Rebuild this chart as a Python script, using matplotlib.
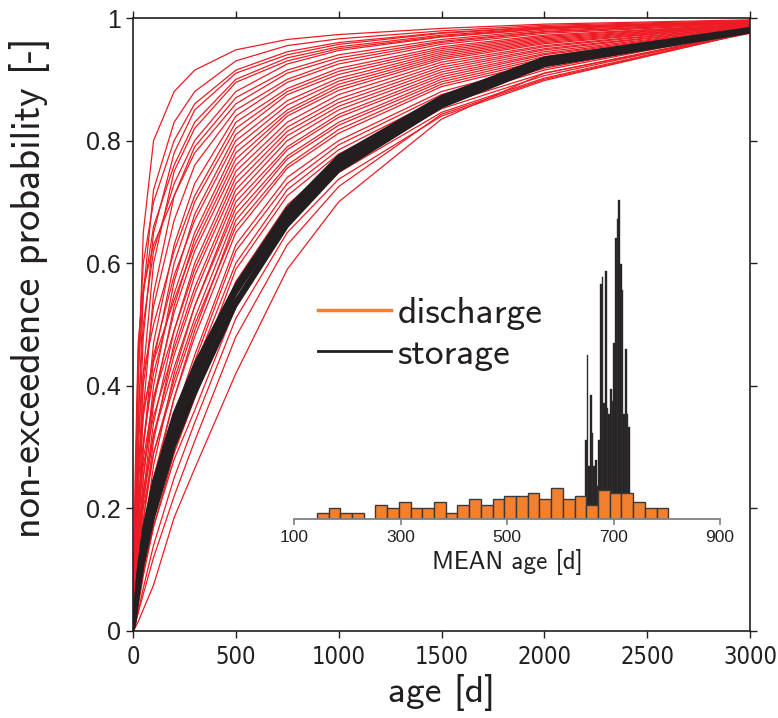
import numpy as np
import matplotlib.pyplot as plt
from matplotlib.lines import Line2D
from matplotlib.ticker import FormatStrFormatter
from matplotlib import font_manager

ages = [0, 10, 25, 50, 100, 200, 300, 500, 750, 1000, 1500, 2000, 3000]

# discharge age CDFs (one row per realisation)
discharge_cdfs = [
    [0, .15, .40, .65, .80, .88, .915, .948, .965, .973, .983, .990, .997],
    [0, .12, .33, .55, .72, .83, .88, .93, .955, .966, .979, .988, .996],
    [0, .18, .45, .60, .70, .80, .86, .915, .945, .960, .976, .986, .995],
    [0, .10, .28, .48, .65, .78, .85, .91, .94, .957, .975, .985, .995],
    [0, .20, .42, .55, .66, .76, .83, .90, .935, .953, .972, .984, .994],
    [0, .08, .22, .42, .60, .75, .82, .895, .93, .950, .970, .983, .994],
    [0, .14, .35, .50, .62, .73, .80, .88, .925, .947, .969, .982, .993],
    [0, .06, .18, .36, .55, .71, .79, .87, .915, .940, .965, .980, .993],
    [0, .25, .47, .56, .63, .71, .78, .86, .91, .935, .962, .978, .992],
    [0, .10, .25, .40, .53, .67, .76, .85, .90, .930, .960, .977, .992],
    [0, .05, .15, .30, .47, .63, .73, .84, .895, .925, .957, .975, .991],
    [0, .16, .32, .42, .50, .62, .71, .83, .885, .918, .953, .972, .990],
    [0, .07, .17, .30, .44, .60, .70, .82, .88, .913, .950, .970, .990],
    [0, .04, .12, .25, .40, .57, .68, .81, .875, .908, .947, .968, .989],
    [0, .11, .24, .35, .45, .58, .67, .80, .865, .902, .944, .966, .989],
    [0, .09, .20, .31, .42, .55, .65, .79, .858, .897, .941, .964, .988],
    [0, .03, .10, .22, .37, .53, .64, .78, .85, .892, .938, .962, .988],
    [0, .13, .27, .36, .44, .54, .63, .77, .845, .887, .935, .960, .987],
    [0, .06, .14, .25, .38, .52, .62, .76, .84, .882, .932, .958, .987],
    [0, .04, .11, .21, .34, .49, .60, .75, .83, .875, .928, .955, .986],
    [0, .08, .18, .28, .38, .49, .59, .74, .822, .868, .924, .953, .986],
    [0, .03, .09, .18, .31, .47, .58, .73, .815, .862, .920, .950, .985],
    [0, .10, .20, .27, .35, .46, .56, .72, .808, .856, .916, .948, .985],
    [0, .05, .12, .21, .32, .45, .55, .71, .80, .850, .912, .945, .984],
    [0, .02, .07, .15, .27, .42, .53, .70, .79, .843, .908, .942, .984],
    [0, .07, .15, .23, .32, .43, .53, .69, .785, .838, .904, .940, .983],
    [0, .04, .10, .18, .29, .41, .51, .68, .775, .830, .900, .937, .983],
    [0, .02, .06, .13, .24, .38, .49, .67, .77, .825, .896, .934, .982],
    [0, .06, .13, .20, .29, .40, .50, .66, .76, .818, .892, .931, .982],
    [0, .03, .08, .15, .25, .38, .48, .65, .755, .812, .888, .928, .981],
    [0, .03, .08, .14, .23, .35, .45, .63, .74, .80, .880, .925, .980],
    [0, .02, .06, .12, .21, .34, .44, .62, .73, .793, .875, .922, .980],
    [0, .04, .09, .15, .23, .34, .43, .60, .72, .785, .870, .918, .979],
    [0, .02, .05, .10, .19, .31, .41, .59, .71, .778, .865, .915, .979],
    [0, .03, .07, .12, .20, .31, .40, .57, .695, .768, .858, .910, .978],
    [0, .01, .04, .09, .17, .29, .38, .55, .68, .758, .852, .906, .978],
    [0, .02, .05, .10, .17, .28, .36, .53, .665, .748, .846, .902, .977],
    [0, .01, .03, .07, .14, .25, .34, .51, .65, .737, .840, .898, .977],
    [0, .01, .03, .06, .12, .22, .31, .48, .63, .725, .843, .900, .976],
    [0, .005, .015, .035, .075, .185, .265, .42, .59, .70, .835, .91, .975],
]

# storage age CDFs
storage_cdfs = [
    [0, .045, .10, .165, .245, .355, .435, .565, .69, .775, .872, .935, .983],
    [0, .04, .09, .155, .235, .345, .425, .56, .685, .77, .868, .932, .982],
    [0, .035, .085, .145, .225, .34, .42, .555, .68, .765, .865, .930, .981],
    [0, .03, .08, .14, .215, .33, .41, .55, .675, .762, .862, .928, .980],
    [0, .025, .07, .13, .205, .32, .40, .54, .67, .758, .86, .926, .979],
    [0, .02, .065, .12, .195, .31, .395, .535, .665, .755, .857, .924, .978],
    [0, .015, .055, .11, .185, .30, .385, .53, .66, .75, .855, .922, .977],
]

# histogram of mean ages: discharge (22 d bins from 143 d)
discharge_bin_start = 143
discharge_bin_width = 22
discharge_counts = [2, 4, 2, 2, 0, 5, 4, 6, 4, 4, 6, 2, 5, 7, 5, 7, 8, 8, 9, 7,
                    11, 7, 8, 5, 10, 9, 9, 6, 4, 4]

# storage (narrow bins from 646.5 d)
storage_bin_start = 646.5
storage_bin_width = 3.13
storage_counts = [27.6, 57.2, 18.6, 43.4, 29.9, 18.6, 20.7, 11.6, 27.6, 82.2,
                  84.5, 40.7, 86.6, 38.7, 36.6, 45.6, 41.3, 61.6, 98.3, 104.9,
                  111.6, 89, 80.2, 36.6, 59.3, 36.6, 32.1]

RED = '#ED1C24'
DARK = '#231F20'
ORANGE = '#F3802F'
LABEL_FONT = 'cmss10'

# narrow face for the x tick labels, if the system has one
narrow = font_manager.FontProperties(family='DejaVu Sans', stretch='condensed',
                                     size=17)
if 'Condensed' not in font_manager.findfont(narrow):
    narrow = font_manager.FontProperties(family='Liberation Sans', size=15)

fig = plt.figure(figsize=(7.78, 7.18), dpi=100)
ax = fig.add_axes([133 / 778, 1 - 631 / 718, 617 / 778, 613 / 718])

for row in discharge_cdfs:
    ax.plot(ages, row, color=RED, lw=0.9)
for row in storage_cdfs:
    ax.plot(ages, row, color=DARK, lw=2.2)

ax.set_xlim(0, 3000)
ax.set_ylim(0, 1)
ax.set_xticks(np.arange(0, 3001, 500))
ax.set_yticks(np.arange(0, 1.01, 0.2))
ax.yaxis.set_major_formatter(FormatStrFormatter('%g'))
ax.tick_params(direction='out', length=5, width=1, color=DARK,
               top=True, right=True, labelcolor=DARK)
ax.tick_params(axis='x', pad=5)
for lab in ax.get_xticklabels():
    lab.set_fontproperties(narrow)
for lab in ax.get_yticklabels():
    lab.set_family('Liberation Sans')
    lab.set_fontsize(18)
for sp in ax.spines.values():
    sp.set_color(DARK)
    sp.set_linewidth(1.2)

ax.set_xlabel('age [d]', family=LABEL_FONT, fontsize=27, color=DARK)
ax.set_ylabel('non-exceedence probability [-]', family=LABEL_FONT,
              fontsize=29, color=DARK)
ax.xaxis.set_label_coords(0.5, -0.07)
ax.yaxis.set_label_coords(-0.135, 0.56)

handles = [Line2D([], [], color=ORANGE, lw=2.5),
           Line2D([], [], color=DARK, lw=2)]
leg = fig.legend(handles, ['discharge', 'storage'], loc='upper left',
                 bbox_to_anchor=(318 / 778, 1 - 297 / 718), frameon=False,
                 borderpad=0, borderaxespad=0, handlelength=1.95,
                 handletextpad=0.18, labelspacing=0.2,
                 prop={'family': LABEL_FONT, 'size': 27})
for t in leg.get_texts():
    t.set_color(DARK)

# inset histogram
ins = fig.add_axes([294 / 778, 1 - 519 / 718, 426 / 778, 324 / 718])
ins.patch.set_alpha(0)
s_left = storage_bin_start + storage_bin_width * np.arange(len(storage_counts))
ins.bar(s_left, storage_counts, width=storage_bin_width, align='edge',
        color=DARK, edgecolor='#3a3a3a', linewidth=0.3)
d_left = discharge_bin_start + discharge_bin_width * np.arange(len(discharge_counts))
ins.bar(d_left, discharge_counts, width=discharge_bin_width, align='edge',
        color=ORANGE, edgecolor='#3a3a3a', linewidth=1)
ins.set_xlim(100, 900)
ins.set_ylim(0, 113.3)
ins.set_xticks([100, 300, 500, 700, 900])
ins.set_yticks([])
for side in ['left', 'right', 'top']:
    ins.spines[side].set_visible(False)
ins.spines['bottom'].set_color('#808080')
ins.spines['bottom'].set_linewidth(1.3)
ins.tick_params(axis='x', direction='out', length=4, width=1.2, color='#808080',
                labelsize=12.5, labelcolor='#222222', pad=4)
for lab in ins.get_xticklabels():
    lab.set_family('Liberation Sans')
ins.set_xlabel('MEAN age [d]', family=LABEL_FONT, fontsize=18, color=DARK,
               labelpad=3)

fig.savefig('out.png', dpi=100)
